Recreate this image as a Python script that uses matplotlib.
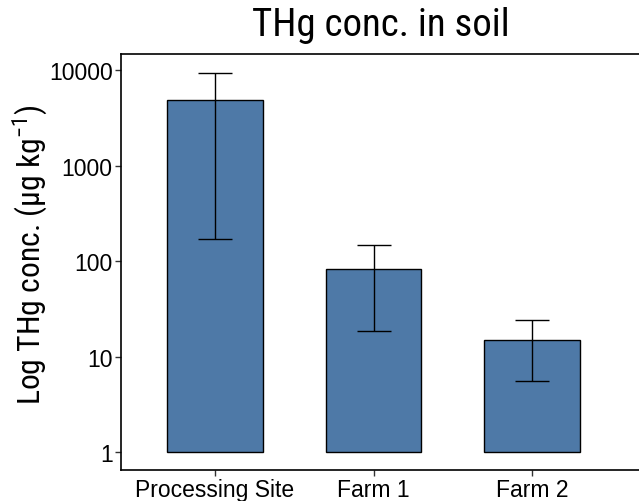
import numpy as np
import matplotlib
matplotlib.use("Agg")
import matplotlib.pyplot as plt

sites = ["Processing Site", "Farm 1", "Farm 2"]
mean_thg = [4850, 82, 15]
err_upper = [9300, 147, 24.4]
err_lower = [170, 18.5, 5.5]

narrow = ["Liberation Sans Narrow", "Roboto Condensed", "DejaVu Sans"]
plt.rcParams["font.family"] = ["Liberation Sans", "DejaVu Sans"]

fig = plt.figure(figsize=(6.39, 5.02), dpi=100)
ax = fig.add_axes([121 / 639, 1 - 471 / 502, 1 - 121 / 639, (471 - 55) / 502])

x = np.arange(len(sites))
mean = np.array(mean_thg)
heights = mean - 1
ax.bar(x, heights, bottom=1, width=0.6, color="#4E79A7",
       edgecolor="black", linewidth=1, zorder=2)
yerr = [mean - np.array(err_lower), np.array(err_upper) - mean]
ax.errorbar(x, mean, yerr=yerr, fmt="none", ecolor="black",
            elinewidth=1, capsize=12, capthick=1, zorder=3)

ax.set_yscale("log")
ax.set_ylim(10 ** -0.188, 10 ** 4.168)
ax.set_xlim(-0.593, 2.675)
ax.set_yticks([1, 10, 100, 1000, 10000])
ax.set_yticklabels(["1", "10", "100", "1000", "10000"])
ax.minorticks_off()
ax.set_xticks(x)
ax.set_xticklabels(sites)
ax.tick_params(labelsize=16.5, length=4, width=1, color="#333333",
               labelcolor="black", pad=2)
ax.tick_params(axis="x", pad=2)

for s in ["left", "bottom", "top"]:
    ax.spines[s].set_linewidth(1.2)
ax.spines["right"].set_visible(False)

ax.set_ylabel("Log THg conc. (μg kg$^{\\mathregular{-1}}$)", fontsize=22.8,
              family=narrow, labelpad=-1)
ax.yaxis.label.set_y(0.519)
fig.text(0.596, 0.95, "THg conc. in soil", fontsize=28, family=narrow,
         ha="center", va="center")

plt.savefig("out.png", dpi=100)
